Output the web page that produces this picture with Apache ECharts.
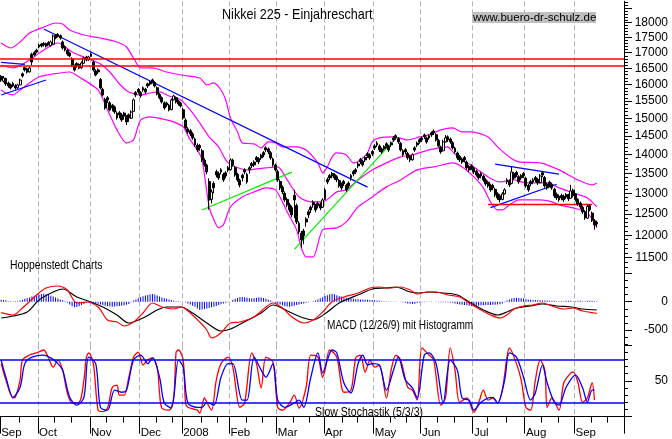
<!DOCTYPE html>
<html><head><meta charset="utf-8">
<script src="https://cdn.jsdelivr.net/npm/echarts@6/dist/echarts.min.js"></script>
<style>html,body{margin:0;padding:0;background:#fff;}#c{width:672px;height:439px;}</style>
</head><body><div id="c"></div>
<script>
// ---------- axis / category data ----------
const monthLabels = ['Sep','Oct','Nov','Dec','2008','Feb','Mar','Apr','May','Jun','Jul','Aug','Sep'];
const monthBars = [16,22,21,18,20,20,20,21,20,22,22,21,21];
const minorTickIdx = [8,23,30,45,52,66,73,85,92,104,111,124,131,145,151,165,172,185,192,206,214,229,236,250,257];
const priceTickLabels = [11500,12000,12500,13000,13500,14000,14500,15000,15500,16000,16500,17000,17500,18000];
const priceMajorTicks = [11500,12000,12500,13000,13500,14000,14500,15000,15500,16000,16500,17000,17500,18000,18500];
const macdTickLabels = [0,-500];
const macdMajorTicks = [500,0,-500];
const stochTickLabels = [50];
const stochMajorTicks = [0,50,100];

// ---------- price data (OHLC) ----------
const openP = [
16250,16100,16180,16040,15990,16030,15960,15900,15990,16330,
16520,16480,16390,16950,17000,17080,17250,17280,17300,17290,
17330,17230,17280,17560,17600,17560,17350,17200,17080,16990,
16800,16580,16650,16620,16520,16660,16860,16770,16880,16700,
16420,16450,16150,15850,15550,15600,15450,15380,15330,15150,
15160,15100,15150,15050,15100,15000,15200,15760,15850,15760,
15900,15860,16020,16080,16140,16060,15900,15700,15600,15450,
15440,15380,15250,15540,15600,15500,15440,15250,14950,14700,
14650,14560,14420,14250,14240,14100,13850,13720,13300,12850,
13250,13550,13500,13600,13480,13520,13650,13600,13850,13650,
13480,13330,13460,13600,13480,13650,13760,13800,13920,13890,
13980,14050,14180,14150,14050,13880,13720,13550,13300,13150,
13000,12850,12720,12650,12950,12700,12280,12050,12100,12380,
12550,12660,12780,12700,12760,12740,12660,12850,13350,13450,
13500,13470,13420,13320,13230,13300,13200,13260,13450,13550,
13600,13750,13870,13820,13920,14020,13990,14080,14230,14310,
14230,14150,14210,14290,14220,14310,14450,14510,14430,14300,
14100,14130,14030,13950,13860,14180,14310,14400,14450,14530,
14450,14510,14590,14640,14540,14380,14200,14100,14340,14480,
14420,14320,14170,14040,13950,13880,13920,13800,13680,13700,
13640,13560,13480,13500,13430,13340,13280,13200,13200,13100,
12990,12940,12850,12990,13340,13310,13250,13500,13530,13420,
13450,13500,13380,13200,13300,13340,13400,13350,13270,13520,
13400,13230,13280,13230,13100,12980,12930,12950,12930,12970,
12950,12880,13080,12980,12850,12760,12660,12550,12400,12700,
12520,12340,12300];
const closeP = [
16138,16200,16015,15955,15894,15955,15894,15985,16138,16261,
16449,16386,16512,16700,16925,17022,17185,17218,17251,17218,
17284,17350,17550,17483,17550,17483,17152,17087,16957,16893,
16606,16449,16575,16512,16670,16829,16765,16861,16957,16449,
16292,16386,15894,15683,15299,15535,15241,15299,15183,15011,
15097,14954,15068,14897,15011,15183,15535,15683,15773,15653,
15833,15773,15955,16015,16076,15955,15713,15594,15476,15299,
15387,15241,15535,15653,15476,15417,15358,15011,14728,14616,
14561,14450,14259,14123,14177,13857,13725,13543,12839,13037,
13137,13466,13389,13543,13338,13440,13595,13857,13725,13466,
13338,13212,13389,13543,13287,13595,13699,13725,13857,13804,
13910,13989,14123,14069,13910,13725,13595,13338,13137,13037,
12839,12718,12597,12477,12839,12312,12080,11897,11988,12312,
12477,12597,12718,12597,12694,12645,12839,13087,13287,13389,
13440,13389,13338,13187,13137,13237,13087,13187,13389,13492,
13543,13699,13804,13725,13857,13963,13910,14016,14177,14259,
14123,14069,14150,14232,14123,14259,14395,14450,14340,14123,
13989,14069,13910,13857,13989,14123,14259,14340,14395,14478,
14340,14450,14533,14589,14395,14232,14069,14340,14450,14395,
14340,14177,14069,13910,13857,13804,13857,13647,13595,13647,
13543,13466,13389,13440,13338,13237,13187,13087,13137,12962,
12888,12839,12987,13087,13287,13212,13543,13389,13466,13287,
13389,13440,13187,13087,13237,13287,13338,13262,13440,13466,
13187,13137,13212,13137,12937,12888,12839,12888,12839,12913,
12864,13062,12950,12850,12742,12669,12549,12406,12680,12600,
12359,12242,12265];
const lowP = [
16080,16060,15960,15900,15850,15920,15840,15870,15970,16220,
16400,16340,16370,16600,16880,16980,17140,17170,17200,17170,
17240,17200,17250,17440,17500,17430,17100,17040,16900,16850,
16550,16400,16520,16470,16490,16640,16720,16740,16860,16400,
16250,16320,15850,15640,15250,15450,15200,15200,15130,14960,
15000,14900,14960,14810,14900,14980,15180,15620,15720,15600,
15780,15720,15900,15960,16030,15910,15670,15550,15430,15250,
15330,15200,15230,15520,15430,15370,15310,14960,14680,14560,
14500,14400,14210,14070,14100,13800,13680,13480,12600,12750,
13000,13400,13340,13480,13290,13380,13540,13580,13680,13420,
13290,13150,13300,13480,13240,13500,13640,13670,13800,13750,
13850,13930,14060,14010,13860,13680,13550,13290,13080,12980,
12790,12660,12540,12420,12400,12260,12030,11720,11800,12200,
12400,12520,12650,12540,12630,12590,12640,12830,13230,13330,
13380,13340,13280,13140,13080,13180,13040,13130,13320,13430,
13490,13640,13750,13680,13800,13910,13860,13960,14120,14200,
14070,14020,14100,14180,14070,14200,14340,14400,14290,14080,
13940,14000,13860,13800,13840,14070,14200,14290,14340,14420,
14290,14400,14480,14530,14350,14190,14020,14080,14320,14340,
14290,14130,14020,13860,13800,13750,13790,13600,13540,13590,
13490,13420,13340,13380,13290,13190,13140,13040,13080,12910,
12840,12780,12830,12970,13230,13160,13230,13340,13410,13240,
13330,13390,13140,13040,13180,13230,13280,13210,13250,13410,
13140,13090,13160,13090,12890,12840,12790,12830,12790,12860,
12810,12860,12900,12800,12690,12620,12500,12360,12380,12560,
12310,12130,12200];
const highP = [
16290,16260,16210,16090,16030,16080,16010,16020,16180,16370,
16560,16520,16560,17000,17050,17130,17290,17320,17350,17330,
17380,17400,17600,17620,17650,17600,17400,17240,17120,17030,
16850,16620,16690,16660,16720,16870,16900,16900,17000,16760,
16470,16500,16200,15900,15600,15650,15500,15420,15370,15200,
15210,15150,15190,15090,15140,15230,15580,15800,15890,15800,
15940,15900,16060,16120,16180,16100,15940,15740,15640,15490,
15480,15420,15580,15690,15640,15540,15480,15300,15000,14750,
14700,14610,14460,14300,14280,14150,13900,13760,13380,13100,
13300,13600,13550,13640,13520,13560,13700,13900,13890,13700,
13520,13370,13500,13640,13520,13690,13800,13840,13960,13930,
14020,14090,14220,14190,14090,13920,13760,13600,13350,13200,
13050,12900,12770,12700,13090,12750,12330,12100,12150,12420,
12600,12700,12830,12740,12800,12780,12880,13130,13400,13490,
13540,13510,13460,13360,13270,13340,13240,13300,13490,13590,
13640,13800,13910,13860,13960,14060,14030,14120,14280,14360,
14270,14190,14250,14330,14260,14350,14500,14550,14470,14340,
14140,14170,14070,13990,14030,14220,14350,14440,14490,14570,
14490,14550,14630,14680,14580,14420,14240,14400,14530,14520,
14460,14360,14210,14080,13990,13920,13960,13840,13720,13740,
13680,13600,13520,13540,13470,13380,13320,13240,13240,13140,
13030,12980,13030,13130,13380,13350,13680,13540,13570,13460,
13490,13540,13420,13240,13340,13380,13440,13390,13490,13560,
13440,13270,13320,13270,13140,13020,12970,12990,12970,13010,
12990,13210,13120,13000,12880,12800,12700,12590,12720,12740,
12560,12380,12340];

// ---------- Bollinger bands (bar index, price) ----------
const bbUpper = [[0,17317],[4,17152],[8,17350],[12,17650],[18,17850],[23,17990],[26,17955],[29,17751],[35,17583],[42,17483],[49,17350],[53,17185],[56,16829],[59,16512],[64,16512],[70,16386],[76,16292],[84,16200],[87,15985],[90,16046],[93,15833],[95,15535],[97,15011],[100,14616],[102,14313],[107,14286],[110,14177],[113,14340],[116,14313],[119,14205],[125,14205],[129,14123],[134,13778],[136,13518],[138,13673],[140,13936],[142,14042],[146,13989],[149,13778],[152,13857],[155,14042],[157,14340],[160,14450],[166,14478],[172,14395],[177,14478],[181,14533],[186,14672],[191,14728],[195,14616],[199,14616],[206,14478],[210,14205],[215,13936],[219,13804],[228,13778],[236,13595],[244,13338],[250,13212],[252,13262]];
const bbMiddle = [[0,16606],[5,16512],[12,16765],[18,17087],[24,17317],[30,17022],[38,16765],[42,16638],[46,16386],[50,16015],[54,15773],[59,15683],[63,15743],[67,15773],[71,15653],[76,15535],[80,15241],[84,14869],[88,14478],[92,14205],[96,13778],[104,13595],[112,13647],[117,13673],[121,13338],[126,12913],[131,12791],[136,12791],[142,13037],[146,13087],[151,13338],[157,13595],[163,13778],[169,13936],[174,13989],[181,14123],[189,14205],[191,14069],[195,13857],[200,13673],[206,13415],[211,13287],[217,13338],[222,13262],[231,13262],[236,13137],[242,13012],[248,12888],[252,12669]];
const bbLower = [[0,15833],[2,15743],[5,15683],[8,15833],[16,16230],[25,16355],[29,16386],[33,16230],[41,15833],[45,15241],[49,14672],[53,14313],[56,14395],[59,14954],[63,15040],[70,14954],[74,14869],[77,14756],[80,14395],[83,14123],[85,13857],[88,12669],[90,12359],[92,12173],[94,12242],[97,12669],[102,12913],[107,13037],[112,13137],[116,13087],[119,12791],[121,12549],[125,12126],[127,11717],[129,11518],[132,11518],[136,12126],[142,12173],[146,12312],[151,12669],[157,12913],[163,13162],[169,13338],[176,13595],[183,13673],[191,13778],[195,13673],[200,13415],[204,13137],[207,12791],[210,12597],[212,12597],[215,12718],[219,12839],[228,12839],[233,12791],[236,12718],[242,12645],[248,12525],[252,12173]];

// ---------- trend lines & levels ----------
const redLevels = [16819,16596];
const trendBlueLong = [[18,17785],[155,13155]];
const trendBlueFlat = [[0,16690],[10,16627]];
const trendBlueUp = [[0,15683],[19,16138]];
const trendGreen1 = [[85,12596],[123,13538]];
const trendGreen2 = [[124,11683],[167,14446]];
const triUpper = [[209,13745],[236,13487]];
const triLower = [[207,12653],[235,13228]];
const redSupport = [[206,12725],[250,12725]];

// ---------- MACD ----------
const macdLine = [[0,-194],[5,-235],[9,-111],[15,118],[19,242],[24,277],[28,207],[32,-23],[36,-5],[41,-94],[45,-323],[49,-359],[52,-429],[56,-359],[60,-200],[64,-23],[68,-94],[73,-129],[76,-94],[80,-200],[84,-359],[87,-500],[89,-641],[93,-553],[97,-376],[101,-359],[107,-270],[112,-94],[115,-23],[119,-111],[123,-270],[128,-376],[132,-323],[136,-182],[140,0],[145,83],[151,154],[156,242],[160,260],[164,242],[169,260],[173,207],[176,136],[180,171],[184,171],[189,118],[194,83],[198,-23],[203,-147],[207,-235],[211,-288],[214,-235],[217,-129],[221,-76],[225,-58],[229,-23],[233,-76],[238,-129],[242,-111],[246,-164],[251,-200],[252,-205]];
const signalLine = [[0,-288],[5,-253],[11,-182],[16,30],[22,171],[26,224],[32,83],[38,-5],[43,-94],[49,-235],[54,-376],[60,-288],[66,-147],[70,-94],[76,-94],[81,-200],[87,-376],[93,-518],[97,-482],[102,-376],[110,-200],[115,-58],[122,-182],[128,-288],[132,-323],[138,-182],[143,-23],[152,136],[157,224],[163,242],[167,260],[173,171],[177,154],[181,171],[187,154],[193,118],[198,-5],[204,-147],[210,-235],[214,-182],[218,-111],[224,-76],[229,-41],[235,-76],[241,-94],[246,-129],[252,-147]];
const histogram = [
35,30,25,
10,8,5,8,10,
20,35,50,60,75,90,100,110,
125,135,140,130,
120,105,90,75,55,40,25,10,
-20,-50,-80,-100,-95,-80,-60,-40,-20,
0,
-25,-30,-30,-35,
-50,-60,-70,-80,-85,-90,-85,-80,-75,-70,-65,-55,-40,
-10,
20,40,60,80,95,110,120,130,135,125,110,
90,75,60,50,40,30,
15,10,8,5,0,-10,
-30,-50,-70,-90,-120,-145,-140,-130,-120,
-110,-100,-90,-75,-60,-45,-30,-20,-10,0,
30,50,65,80,85,80,70,60,55,60,70,80,75,65,50,35,20,5,
-20,-35,-50,-65,-80,-85,-90,-80,-70,-60,-50,-40,-30,-20,
-10,0,10,20,40,60,
80,100,115,130,140,130,115,100,
90,80,70,60,
55,50,45,45,40,40,35,35,30,30,25,20,15,
10,8,5,5,5,3,2,0,-5,-10,-20,
-30,-35,-40,-35,-25,
-15,-10,-8,-5,-5,-5,-3,-5,-8,-10,-10,-8,-10,-15,
-20,-30,-40,-50,-55,-60,-65,-70,
-75,-75,-70,-70,-65,-65,-60,-60,-60,-55,-55,-50,-45,-30,-10,
20,40,55,65,70,65,60,55,45,40,
35,30,30,25,25,20,20,20,15,15,15,10,10,10,
10,15,15,15,10,10,15,15,10,10,15,15,15,10,10];

// ---------- Slow stochastic ----------
const stochK = [[0,74],[2,51],[5,26],[6,27],[8,51],[9,79],[12,86],[15,89],[18,93],[20,82],[22,69],[24,79],[26,65],[28,33],[30,19],[33,20],[35,51],[36,82],[37,89],[39,74],[41,9],[43,7],[45,12],[47,41],[49,44],[50,30],[52,30],[54,55],[56,83],[58,90],[60,72],[62,79],[64,82],[66,69],[67,33],[68,12],[71,9],[73,27],[74,90],[75,93],[77,79],[78,19],[79,13],[83,9],[84,5],[86,26],[87,20],[89,9],[91,51],[93,74],[96,83],[98,69],[101,13],[103,19],[106,89],[108,74],[110,40],[112,83],[115,76],[117,13],[119,9],[122,19],[124,30],[126,12],[129,41],[131,86],[134,83],[136,55],[137,65],[139,93],[142,83],[145,34],[148,37],[150,82],[152,86],[154,62],[156,79],[158,69],[160,72],[163,26],[165,65],[167,86],[169,79],[172,41],[174,37],[176,23],[178,96],[181,86],[183,79],[186,16],[188,26],[190,96],[192,65],[194,20],[197,26],[200,6],[202,19],[204,37],[206,23],[208,26],[210,19],[212,37],[214,83],[215,96],[218,74],[220,51],[222,13],[224,9],[226,51],[228,79],[230,65],[231,13],[233,26],[236,9],[238,47],[241,61],[242,62],[244,48],[246,20],[248,26],[250,47],[251,23]];
const stochD = [[0,79],[2,55],[5,27],[8,41],[10,74],[13,83],[18,86],[21,82],[24,74],[26,65],[29,27],[32,16],[35,27],[37,83],[40,74],[42,13],[45,9],[48,37],[51,34],[53,37],[56,79],[59,86],[62,74],[64,82],[67,55],[69,19],[72,12],[75,79],[77,69],[79,19],[83,13],[85,13],[87,20],[90,16],[93,55],[96,74],[98,74],[102,23],[104,23],[107,83],[110,65],[112,55],[115,74],[117,23],[120,13],[124,19],[126,23],[128,13],[131,55],[134,89],[136,61],[138,79],[140,93],[142,89],[145,47],[148,33],[151,74],[153,86],[155,72],[157,74],[160,72],[163,37],[166,65],[168,83],[171,51],[174,40],[176,26],[179,86],[181,89],[184,74],[187,19],[190,79],[193,65],[195,26],[198,23],[200,9],[203,20],[206,26],[208,27],[210,19],[213,51],[215,89],[218,83],[221,55],[224,23],[226,33],[229,72],[231,47],[234,20],[236,16],[239,41],[243,58],[246,40],[248,20],[250,37],[251,37]];
const stochLevels = [80,20];

// ---------- build ----------
const categories = [];
const monthStart = new Set();
let acc = 0;
monthBars.forEach((n, k) => {
  monthStart.add(acc);
  for (let j = 0; j < n; j++) categories.push(monthLabels[k] + '|' + k + '|' + j);
  acc += n;
});
const minorSet = new Set(minorTickIdx);
const candles = closeP.map((c, i) => [openP[i], c, lowP[i], highP[i]]);

const P_MIN = 11250, P_MAX = 18750;
const priceMinor = [];
for (let v = 11300; v <= 18700; v += 100) priceMinor.push(Math.log(v));
const macdMinor = [];
for (let v = -750; v <= 500; v += 125) macdMinor.push(v);
const stochMinor = [];
for (let v = 0; v <= 100; v += 10) stochMinor.push(v);

const FONT = "'Liberation Sans', Arial, sans-serif";
const black = '#000';

const splitDash = {show: true, interval: (i) => monthStart.has(i) && i > 0,
  lineStyle: {color: '#b4b4b4', type: [5, 3], width: 1}};
function xBase(gi) {
  return {type: 'category', gridIndex: gi, data: categories, boundaryGap: true,
    axisLine: {show: false}, axisTick: {show: false}, axisLabel: {show: false}, splitLine: splitDash};
}
function yRight(gi, min, max, ticks, labels, fmt, len) {
  return {type: 'value', gridIndex: gi, position: 'right', min: min, max: max,
    axisLine: {show: true, lineStyle: {color: black, width: 1}},
    axisTick: {show: true, customValues: ticks, length: len, lineStyle: {color: black}},
    axisLabel: labels ? {show: true, customValues: labels, formatter: fmt, align: 'right', margin: 44,
      color: black, fontSize: 12, fontFamily: FONT} : {show: false},
    splitLine: {show: false}};
}
function yMinor(gi, min, max, ticks) {
  return {type: 'value', gridIndex: gi, position: 'right', min: min, max: max,
    axisLine: {show: false}, axisTick: {show: true, customValues: ticks, length: 4, lineStyle: {color: black}},
    axisLabel: {show: false}, splitLine: {show: false}};
}
function lineS(data, color, xi, yi, w, smooth) {
  return {type: 'line', xAxisIndex: xi, yAxisIndex: yi, data: data, showSymbol: false, symbol: 'none',
    smooth: smooth || false, lineStyle: {color: color, width: w}, silent: true, z: 3};
}
function txt(x, y, s, size, sx) {
  return {type: 'text', x: x, y: y, scaleX: sx, scaleY: 1, z: 10,
    style: {text: s, fontSize: size, fontFamily: FONT, fill: black,
      align: 'left', verticalAlign: 'middle', textAlign: 'left', textVerticalAlign: 'middle'}};
}

const option = {
  animation: false,
  backgroundColor: '#fff',
  textStyle: {fontFamily: FONT},
  grid: [
    {left: 0, right: 48, top: 1.3, height: 267.9, outerBoundsMode: 'none', containLabel: false},
    {left: 0, right: 48, top: 269.2, height: 75.8, outerBoundsMode: 'none', containLabel: false},
    {left: 0, right: 48, top: 345, height: 77, outerBoundsMode: 'none', containLabel: false}
  ],
  xAxis: [
    xBase(0), xBase(1),
    {type: 'category', gridIndex: 2, data: categories, boundaryGap: true, position: 'bottom',
      axisLine: {show: true, lineStyle: {color: black, width: 1}},
      axisTick: {show: true, interval: (i) => monthStart.has(i), length: 17, lineStyle: {color: black}},
      axisLabel: {show: true, interval: (i) => monthStart.has(i), formatter: (v) => v.split('|')[0],
        align: 'left', margin: 5, fontSize: 11.5, color: black, fontFamily: FONT},
      splitLine: splitDash},
    {type: 'category', gridIndex: 2, data: categories, boundaryGap: true, position: 'bottom',
      axisLine: {show: false},
      axisTick: {show: true, interval: (i) => minorSet.has(i), length: 6, lineStyle: {color: black}},
      axisLabel: {show: false}, splitLine: {show: false}}
  ],
  yAxis: [
    {type: 'log', gridIndex: 0, logBase: 10, min: P_MIN, max: P_MAX, show: false, splitLine: {show: false}},
    yRight(0, Math.log(P_MIN), Math.log(P_MAX), priceMajorTicks.map(Math.log), priceTickLabels.map(Math.log),
      (v) => String(Math.round(Math.exp(v))), 8),
    yMinor(0, Math.log(P_MIN), Math.log(P_MAX), priceMinor),
    yRight(1, -765, 574, macdMajorTicks, macdTickLabels, (v) => String(v), 8),
    yMinor(1, -765, 574, macdMinor),
    yRight(2, -7.5, 100, stochMajorTicks, stochTickLabels, (v) => String(v), 8),
    yMinor(2, -7.5, 100, stochMinor)
  ],
  series: [
    lineS(bbUpper, '#ff00ff', 0, 0, 1.2, 0.25),
    lineS(bbMiddle, '#ff00ff', 0, 0, 1.2, 0.25),
    lineS(bbLower, '#ff00ff', 0, 0, 1.2, 0.25),
    {type: 'candlestick', xAxisIndex: 0, yAxisIndex: 0, data: candles, barWidth: 2.4, silent: true, z: 4,
      itemStyle: {color: '#fff', color0: '#000', borderColor: '#000', borderColor0: '#000', borderWidth: 1},
      markLine: {silent: true, symbol: ['none', 'none'], label: {show: false},
        lineStyle: {color: '#ff0000', width: 1.5, type: 'solid'},
        data: redLevels.map((v) => ({yAxis: v}))}},
    lineS(trendBlueLong, '#0000ff', 0, 0, 1.2),
    lineS(trendBlueFlat, '#0000ff', 0, 0, 1.2),
    lineS(trendBlueUp, '#0000ff', 0, 0, 1.2),
    lineS(trendGreen1, '#00ee00', 0, 0, 1.2),
    lineS(trendGreen2, '#00ee00', 0, 0, 1.2),
    lineS(triUpper, '#0000ff', 0, 0, 1.2),
    lineS(triLower, '#0000ff', 0, 0, 1.2),
    lineS(redSupport, '#ff0000', 0, 0, 1.5),
    {type: 'bar', xAxisIndex: 1, yAxisIndex: 3, data: histogram, barWidth: 1, silent: true,
      itemStyle: {color: '#0000ff'}},
    lineS(signalLine, '#000000', 1, 3, 1.2, 0.3),
    lineS(macdLine, '#ff0000', 1, 3, 1.2, 0.3),
    lineS(stochK, '#ff0000', 2, 5, 1.3, 0.3),
    Object.assign(lineS(stochD, '#0000ff', 2, 5, 1.3, 0.3), {
      markLine: {silent: true, symbol: ['none', 'none'], label: {show: false},
        lineStyle: {color: '#0000ff', width: 1.5, type: 'solid'},
        data: stochLevels.map((v) => ({yAxis: v}))}})
  ],
  graphic: [
    txt(222, 15, 'Nikkei 225 - Einjahreschart', 15, 0.84),
    {type: 'rect', z: 9, shape: {x: 472, y: 12, width: 124, height: 11}, style: {fill: '#c0c0c0'}},
    txt(473, 17.5, 'www.buero-dr-schulz.de', 11.5, 1),
    txt(10, 265, 'Hoppenstedt Charts', 13, 0.8),
    txt(327, 326, 'MACD (12/26/9) mit Histogramm', 12, 0.84),
    txt(315, 412.5, 'Slow Stochastik (5/3/3)', 12.5, 0.845)
  ]
};
const chart = echarts.init(document.getElementById('c'), null, {renderer: 'canvas'});
chart.setOption(option);
</script></body></html>
